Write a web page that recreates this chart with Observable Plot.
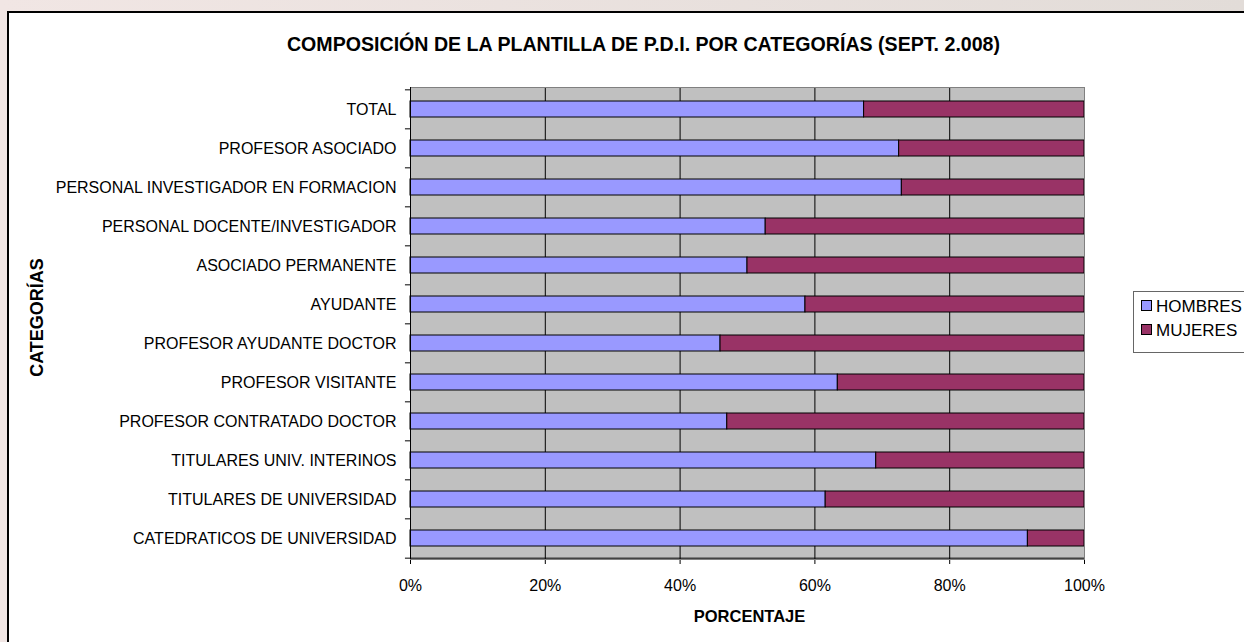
<!DOCTYPE html>
<html><head><meta charset="utf-8">
<script src="https://cdn.jsdelivr.net/npm/d3@7"></script>
<script src="https://cdn.jsdelivr.net/npm/@observablehq/plot@0.6"></script>
<style>
html,body{margin:0;padding:0;width:1244px;height:642px;overflow:hidden;background:linear-gradient(90deg,#f1e6e4,#e2dcd8);font-family:"Liberation Sans",Arial,sans-serif;}
#wrap{position:relative;width:1244px;height:642px;overflow:hidden;}
#frame{position:absolute;left:7px;top:11px;width:1300px;height:700px;border:2px solid #000;background:#fff;}
#chart{position:absolute;left:0;top:0;}
#legend{position:absolute;left:1133px;top:291px;width:140px;height:60px;border:1px solid #666;background:#fff;font-size:17px;color:#000;}
.item{position:absolute;left:7px;height:16px;line-height:16px;white-space:nowrap;}
.sw{display:inline-block;width:9px;height:9px;border:1px solid #000;vertical-align:1px;margin-right:4px;}
</style></head>
<body><div id="wrap"><div id="frame"></div><div id="chart"></div><div id="legend"></div></div>
<script>
const titulo = "COMPOSICIÓN DE LA PLANTILLA DE P.D.I. POR CATEGORÍAS (SEPT. 2.008)";
const tituloX = "PORCENTAJE";
const tituloY = "CATEGORÍAS";
const categorias = [
  "TOTAL",
  "PROFESOR ASOCIADO",
  "PERSONAL INVESTIGADOR EN FORMACION",
  "PERSONAL DOCENTE/INVESTIGADOR",
  "ASOCIADO PERMANENTE",
  "AYUDANTE",
  "PROFESOR AYUDANTE DOCTOR",
  "PROFESOR VISITANTE",
  "PROFESOR CONTRATADO DOCTOR",
  "TITULARES UNIV. INTERINOS",
  "TITULARES DE UNIVERSIDAD",
  "CATEDRATICOS DE UNIVERSIDAD"
];
const hombres = [67.3, 72.5, 72.9, 52.7, 50.0, 58.6, 46.0, 63.4, 47.0, 69.1, 61.6, 91.6];
const mujeres = [32.7, 27.5, 27.1, 47.3, 50.0, 41.4, 54.0, 36.6, 53.0, 30.9, 38.4, 8.4];
const series = ["HOMBRES", "MUJERES"];
const colores = ["#9999FF", "#993366"];
const ticksX = [0, 20, 40, 60, 80, 100];
const gridX = [20, 40, 60, 80];

const W = 1244, H = 642, mT = 87, mB = 83, mL = 410, mR = 160;
const step = (H - mT - mB) / categorias.length;

const tabla = categorias.flatMap((c, i) => [
  {cat: c, sexo: series[0], v: hombres[i]},
  {cat: c, sexo: series[1], v: mujeres[i]}
]);
const ultima = categorias[categorias.length - 1];
const tick = 0.75;

const plot = Plot.plot({
  width: W, height: H,
  marginTop: mT, marginBottom: mB, marginLeft: mL, marginRight: mR,
  style: {background: "transparent", fontFamily: "'Liberation Sans', Arial, sans-serif", fontSize: "16px", color: "#000"},
  x: {domain: [0, 100], ticks: ticksX, tickFormat: d => d + "%", tickSize: 5, tickPadding: 15, label: null},
  y: {domain: categorias, paddingInner: 0.59, paddingOuter: 0.295, align: 0.5, tickSize: 0, tickPadding: 14, label: null},
  color: {domain: series, range: colores},
  marks: [
    Plot.frame({fill: "#C0C0C0"}),
    Plot.ruleX(gridX, {stroke: "#000", strokeWidth: 1}),
    Plot.barX(tabla, Plot.stackX({y: "cat", x: "v", fill: "sexo", order: series, stroke: "#000", strokeWidth: 1})),
    Plot.frame({stroke: "#808080", strokeWidth: 1}),
    Plot.ruleX([0], {stroke: "#000", strokeWidth: 1}),
    Plot.ruleY(categorias, {y: d => d, x1: -tick, x2: 0, dy: -step / 2, stroke: "#000"}),
    Plot.ruleY([ultima], {y: d => d, x1: -tick, x2: 100, dy: step / 2, stroke: "#000"}),
    Plot.text([titulo], {frameAnchor: "top", dx: -104, dy: -50, fontSize: 19.6, fontWeight: "bold", fill: "#000", ariaLabel: "titulo"}),
    Plot.text([tituloX], {frameAnchor: "bottom", dx: 2, dy: 62, fontSize: 16.5, fontWeight: "bold", fill: "#000", ariaLabel: "titulox"}),
    Plot.text([tituloY], {frameAnchor: "left", textAnchor: "middle", dx: -373, dy: -6, rotate: -90, fontSize: 18, fontWeight: "bold", fill: "#000", ariaLabel: "tituloy"})
  ]
});

const sel = d3.select(plot);
sel.select("g[aria-label=titulo] text").attr("textLength", 714).attr("lengthAdjust", "spacingAndGlyphs");
sel.select("g[aria-label=titulox] text").attr("textLength", 104).attr("lengthAdjust", "spacingAndGlyphs");
sel.select("g[aria-label=tituloy] text").attr("textLength", 116).attr("lengthAdjust", "spacingAndGlyphs");
document.getElementById("chart").appendChild(plot);

const leg = document.getElementById("legend");
series.forEach((s, i) => {
  const it = document.createElement("div");
  it.className = "item";
  it.style.top = (7 + i * 24) + "px";
  it.innerHTML = `<span class="sw" style="background:${colores[i]}"></span>${s}`;
  leg.appendChild(it);
});
</script>
</body></html>
